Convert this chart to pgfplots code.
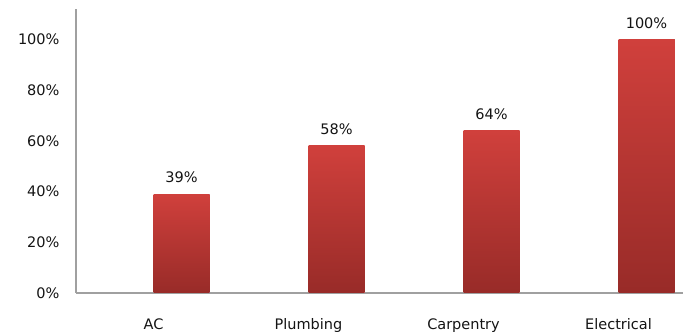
\documentclass[border=0pt]{standalone}
\usepackage{pgfplots}
\pgfplotsset{compat=1.18}
\usepackage{fontspec}
\setmainfont{DejaVu Sans}
\definecolor{barTop}{RGB}{208,64,60}
\definecolor{barBot}{RGB}{152,43,40}
\definecolor{axisgray}{RGB}{160,160,160}
\definecolor{txt}{RGB}{20,20,20}
\begin{document}
\begin{tikzpicture}
\path[use as bounding box] (0,0) rectangle (683pt,336pt);
\begin{axis}[
 at={(76pt,43pt)}, anchor=south west,
 scale only axis, width=607pt, height=284pt,
 xmin=-0.5, xmax=3.416, ymin=0, ymax=112,
 axis x line*=bottom, axis y line*=left,
 axis line style={axisgray, line width=1.3pt},
 xtick={0,1,2,3}, xticklabels={AC,Plumbing,Carpentry,Electrical},
 ytick={0,20,...,100},
 yticklabel={\pgfmathprintnumber{\tick}\%},
 /pgf/number format/assume math mode=true,
 major tick length=0pt,
 tick style={draw=none},
 ticklabel style={font=\fontsize{14.5}{17}\selectfont, text=txt},
 xticklabel style={yshift=-22pt},
 yticklabel style={xshift=-13pt},
 ybar, bar width=56pt, bar shift=28pt,
 every axis plot/.append style={draw=none, top color=barTop, bottom color=barBot, bar shift=28pt},
 nodes near coords={\pgfmathprintnumber{\pgfplotspointmeta}\%},
 nodes near coords style={font=\fontsize{14.5}{17}\selectfont, text=txt, inner sep=0pt, yshift=11pt, anchor=south},
]
\addplot coordinates {(0,39)};
\addplot coordinates {(1,58)};
\addplot coordinates {(2,64)};
\addplot coordinates {(3,100)};
\end{axis}
\end{tikzpicture}
\end{document}
